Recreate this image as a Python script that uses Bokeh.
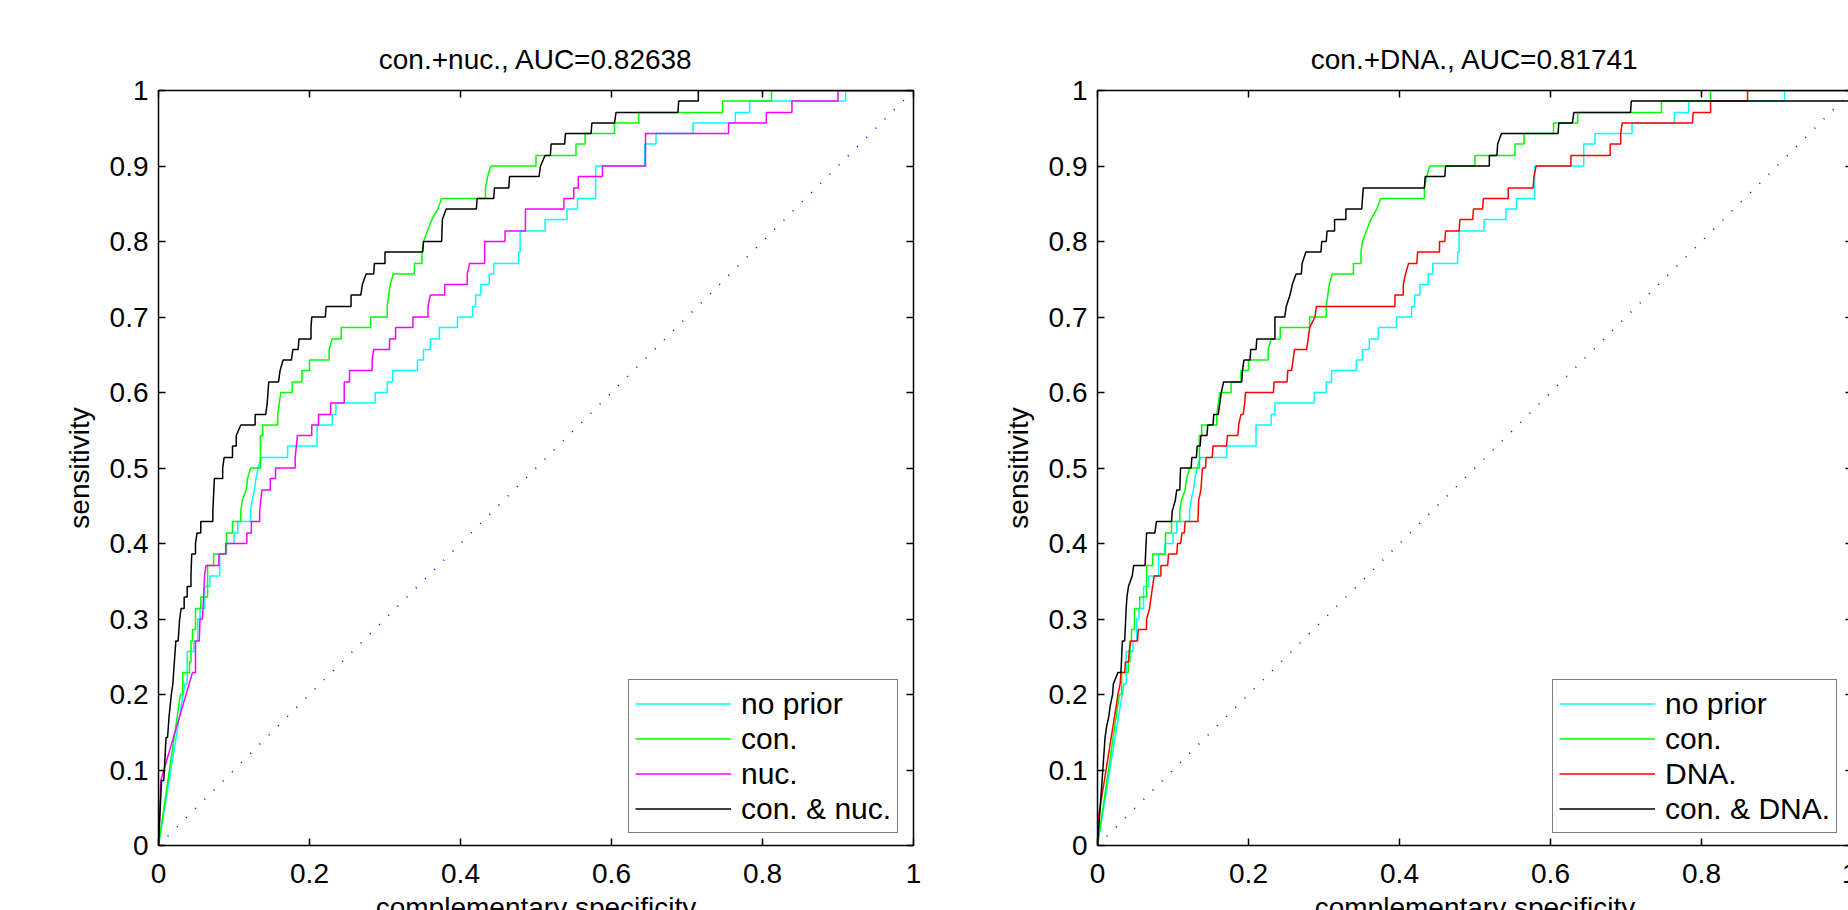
from bokeh.plotting import figure
from bokeh.models import Range1d, LinearAxis, FixedTicker, CustomJSTickFormatter
from bokeh.layouts import row
from bokeh.embed import file_html
from bokeh.resources import INLINE

# ---------------- data ----------------
titles = ["con.+nuc., AUC=0.82638", "con.+DNA., AUC=0.81741"]
x_label = "complementary specificity"
y_label = "sensitivity"
x_ticks = [0, 0.2, 0.4, 0.6, 0.8, 1.0]
y_ticks = [0, 0.1, 0.2, 0.3, 0.4, 0.5, 0.6, 0.7, 0.8, 0.9, 1.0]
legend_left = ["no prior", "con.", "nuc.", "con. & nuc."]
legend_right = ["no prior", "con.", "DNA.", "con. & DNA."]
diag_x = [0, 1]
diag_y = [0, 1]

# ROC vertices (complementary specificity, sensitivity)
roc_no_prior = [
    (0, 0), (0.035, 0.214), (0.038, 0.214), (0.038, 0.257), (0.047, 0.257), (0.047, 0.271),
    (0.052, 0.271), (0.052, 0.300), (0.055, 0.300), (0.055, 0.314), (0.061, 0.314), (0.061, 0.343),
    (0.068, 0.343), (0.068, 0.357), (0.081, 0.357), (0.081, 0.386), (0.089, 0.386), (0.089, 0.400),
    (0.100, 0.400), (0.100, 0.414), (0.105, 0.414), (0.105, 0.429), (0.122, 0.429), (0.122, 0.443),
    (0.124, 0.457), (0.127, 0.471), (0.129, 0.486), (0.132, 0.500), (0.136, 0.514), (0.171, 0.514),
    (0.171, 0.529), (0.210, 0.529), (0.210, 0.557), (0.230, 0.557), (0.230, 0.571), (0.235, 0.571),
    (0.235, 0.586), (0.287, 0.586), (0.287, 0.600), (0.303, 0.600), (0.303, 0.614), (0.310, 0.614),
    (0.310, 0.629), (0.343, 0.629), (0.343, 0.643), (0.351, 0.643), (0.351, 0.657), (0.360, 0.657),
    (0.360, 0.671), (0.372, 0.671), (0.372, 0.686), (0.396, 0.686), (0.396, 0.700), (0.416, 0.700),
    (0.416, 0.714), (0.420, 0.714), (0.420, 0.729), (0.427, 0.729), (0.427, 0.743), (0.438, 0.743),
    (0.438, 0.757), (0.444, 0.757), (0.444, 0.771), (0.477, 0.771), (0.477, 0.786), (0.479, 0.786),
    (0.479, 0.814), (0.512, 0.814), (0.512, 0.829), (0.541, 0.829), (0.541, 0.843), (0.555, 0.843),
    (0.555, 0.857), (0.579, 0.857), (0.579, 0.900), (0.644, 0.900), (0.644, 0.929), (0.659, 0.929),
    (0.659, 0.943), (0.708, 0.943), (0.708, 0.957), (0.764, 0.957), (0.764, 0.971), (0.783, 0.971),
    (0.783, 0.986), (0.910, 0.986), (0.910, 1.000), (1.0, 1.0),
]

roc_con = [
    (0, 0), (0.029, 0.200), (0.032, 0.200), (0.032, 0.229), (0.041, 0.229), (0.041, 0.243),
    (0.043, 0.243), (0.043, 0.271), (0.045, 0.271), (0.045, 0.286), (0.049, 0.286), (0.049, 0.314),
    (0.056, 0.314), (0.056, 0.329), (0.065, 0.329), (0.065, 0.371), (0.073, 0.371), (0.073, 0.386),
    (0.090, 0.386), (0.090, 0.414), (0.098, 0.414), (0.098, 0.429), (0.109, 0.429), (0.109, 0.443),
    (0.111, 0.457), (0.116, 0.471), (0.118, 0.486), (0.122, 0.500), (0.135, 0.500), (0.135, 0.543),
    (0.138, 0.543), (0.138, 0.557), (0.158, 0.557), (0.158, 0.571), (0.160, 0.586), (0.162, 0.600),
    (0.177, 0.600), (0.177, 0.614), (0.190, 0.614), (0.190, 0.629), (0.200, 0.629), (0.200, 0.643),
    (0.226, 0.643), (0.226, 0.657), (0.230, 0.671), (0.242, 0.671), (0.242, 0.686), (0.281, 0.686),
    (0.281, 0.700), (0.303, 0.700), (0.303, 0.714), (0.305, 0.729), (0.307, 0.743), (0.311, 0.757),
    (0.339, 0.757), (0.339, 0.771), (0.349, 0.771), (0.349, 0.786), (0.351, 0.800), (0.356, 0.814),
    (0.362, 0.829), (0.370, 0.843), (0.375, 0.857), (0.433, 0.857), (0.433, 0.871), (0.436, 0.886),
    (0.440, 0.900), (0.500, 0.900), (0.500, 0.914), (0.553, 0.914), (0.553, 0.929), (0.565, 0.929),
    (0.565, 0.943), (0.604, 0.943), (0.604, 0.957), (0.636, 0.957), (0.636, 0.971), (0.747, 0.971),
    (0.747, 0.986), (0.812, 0.986), (0.812, 1.000), (1.0, 1.0),
]

roc_nuc = [
    (0, 0), (0.003, 0.086), (0.045, 0.229), (0.049, 0.229), (0.049, 0.271), (0.054, 0.271),
    (0.055, 0.300), (0.058, 0.300), (0.059, 0.314), (0.061, 0.357), (0.063, 0.371), (0.080, 0.371),
    (0.080, 0.386), (0.089, 0.386), (0.089, 0.400), (0.117, 0.400), (0.117, 0.414), (0.123, 0.414),
    (0.123, 0.429), (0.134, 0.429), (0.134, 0.443), (0.137, 0.471), (0.148, 0.471), (0.148, 0.486),
    (0.155, 0.486), (0.155, 0.500), (0.181, 0.500), (0.181, 0.514), (0.184, 0.543), (0.203, 0.543),
    (0.203, 0.557), (0.212, 0.557), (0.212, 0.571), (0.228, 0.571), (0.228, 0.586), (0.246, 0.586),
    (0.246, 0.614), (0.253, 0.614), (0.253, 0.629), (0.283, 0.629), (0.283, 0.643), (0.285, 0.657),
    (0.306, 0.657), (0.306, 0.671), (0.314, 0.671), (0.314, 0.686), (0.337, 0.686), (0.337, 0.700),
    (0.357, 0.700), (0.357, 0.714), (0.360, 0.729), (0.379, 0.729), (0.379, 0.743), (0.409, 0.743),
    (0.409, 0.757), (0.412, 0.771), (0.432, 0.771), (0.432, 0.800), (0.459, 0.800), (0.459, 0.814),
    (0.486, 0.814), (0.486, 0.843), (0.537, 0.843), (0.537, 0.857), (0.550, 0.857), (0.550, 0.871),
    (0.556, 0.871), (0.556, 0.886), (0.588, 0.886), (0.588, 0.900), (0.645, 0.900), (0.645, 0.943),
    (0.755, 0.943), (0.755, 0.957), (0.805, 0.957), (0.805, 0.971), (0.839, 0.971), (0.839, 0.986),
    (0.900, 0.986), (0.900, 1.000), (1.0, 1.0),
]

roc_con_nuc = [
    (0, 0), (0.004, 0.086), (0.007, 0.086), (0.010, 0.143), (0.012, 0.143), (0.013, 0.157),
    (0.014, 0.171), (0.017, 0.200), (0.019, 0.214), (0.021, 0.243), (0.023, 0.271), (0.026, 0.271),
    (0.028, 0.300), (0.030, 0.314), (0.034, 0.314), (0.034, 0.329), (0.038, 0.329), (0.038, 0.343),
    (0.043, 0.343), (0.043, 0.357), (0.044, 0.386), (0.049, 0.386), (0.049, 0.400), (0.051, 0.414),
    (0.056, 0.414), (0.056, 0.429), (0.072, 0.429), (0.072, 0.443), (0.074, 0.486), (0.085, 0.486),
    (0.085, 0.500), (0.087, 0.514), (0.098, 0.514), (0.098, 0.529), (0.103, 0.529), (0.103, 0.543),
    (0.109, 0.557), (0.128, 0.557), (0.128, 0.571), (0.142, 0.571), (0.144, 0.586), (0.146, 0.614),
    (0.159, 0.614), (0.161, 0.629), (0.165, 0.643), (0.176, 0.643), (0.178, 0.657), (0.185, 0.657),
    (0.186, 0.671), (0.202, 0.671), (0.202, 0.686), (0.203, 0.700), (0.221, 0.700), (0.222, 0.714),
    (0.255, 0.714), (0.255, 0.729), (0.268, 0.729), (0.270, 0.743), (0.275, 0.757), (0.285, 0.757),
    (0.286, 0.771), (0.300, 0.771), (0.300, 0.786), (0.350, 0.786), (0.351, 0.800), (0.375, 0.800),
    (0.376, 0.829), (0.381, 0.843), (0.421, 0.843), (0.422, 0.857), (0.444, 0.857), (0.445, 0.871),
    (0.464, 0.871), (0.465, 0.886), (0.504, 0.886), (0.506, 0.900), (0.512, 0.914), (0.519, 0.914),
    (0.520, 0.929), (0.538, 0.929), (0.539, 0.943), (0.573, 0.943), (0.574, 0.957), (0.604, 0.957),
    (0.606, 0.971), (0.688, 0.971), (0.689, 0.986), (0.715, 0.986), (0.715, 1.000), (1.0, 1.0),
]

roc_dna = [
    (0, 0.029), (0.025, 0.186), (0.027, 0.200), (0.030, 0.214), (0.031, 0.229), (0.036, 0.229),
    (0.037, 0.243), (0.041, 0.243), (0.042, 0.257), (0.044, 0.271), (0.053, 0.271), (0.054, 0.286),
    (0.065, 0.286), (0.065, 0.300), (0.069, 0.314), (0.071, 0.329), (0.075, 0.357), (0.084, 0.357),
    (0.084, 0.371), (0.093, 0.371), (0.094, 0.386), (0.105, 0.386), (0.106, 0.400), (0.110, 0.400),
    (0.112, 0.414), (0.115, 0.414), (0.116, 0.429), (0.133, 0.429), (0.134, 0.457), (0.137, 0.471),
    (0.139, 0.500), (0.143, 0.500), (0.144, 0.514), (0.152, 0.514), (0.153, 0.529), (0.171, 0.529),
    (0.172, 0.543), (0.186, 0.543), (0.187, 0.557), (0.190, 0.571), (0.193, 0.571), (0.195, 0.586),
    (0.196, 0.600), (0.233, 0.600), (0.234, 0.614), (0.251, 0.614), (0.252, 0.629), (0.257, 0.629),
    (0.259, 0.643), (0.261, 0.657), (0.277, 0.657), (0.279, 0.671), (0.281, 0.686), (0.288, 0.700),
    (0.290, 0.714), (0.394, 0.714), (0.394, 0.729), (0.405, 0.729), (0.405, 0.743), (0.408, 0.757),
    (0.412, 0.771), (0.423, 0.771), (0.424, 0.786), (0.453, 0.786), (0.453, 0.800), (0.460, 0.800),
    (0.461, 0.814), (0.479, 0.814), (0.480, 0.829), (0.497, 0.829), (0.498, 0.843), (0.510, 0.843),
    (0.511, 0.857), (0.544, 0.857), (0.544, 0.871), (0.577, 0.871), (0.578, 0.886), (0.581, 0.900),
    (0.627, 0.900), (0.627, 0.914), (0.679, 0.914), (0.679, 0.929), (0.693, 0.929), (0.693, 0.943),
    (0.695, 0.957), (0.788, 0.957), (0.789, 0.971), (0.812, 0.971), (0.812, 0.986), (0.861, 0.986),
    (0.861, 1.000), (1.0, 1.0),
]

roc_con_dna = [
    (0, 0), (0.008, 0.114), (0.010, 0.143), (0.012, 0.157), (0.015, 0.171), (0.017, 0.186),
    (0.020, 0.200), (0.021, 0.214), (0.027, 0.229), (0.031, 0.229), (0.033, 0.271), (0.036, 0.271),
    (0.038, 0.314), (0.039, 0.329), (0.041, 0.343), (0.046, 0.357), (0.048, 0.371), (0.063, 0.371),
    (0.065, 0.414), (0.076, 0.414), (0.078, 0.429), (0.098, 0.429), (0.099, 0.443), (0.103, 0.457),
    (0.105, 0.471), (0.109, 0.471), (0.110, 0.500), (0.124, 0.500), (0.125, 0.514), (0.131, 0.514),
    (0.132, 0.529), (0.136, 0.529), (0.137, 0.543), (0.145, 0.543), (0.146, 0.557), (0.153, 0.557),
    (0.154, 0.571), (0.160, 0.571), (0.162, 0.586), (0.164, 0.600), (0.167, 0.614), (0.191, 0.614),
    (0.192, 0.629), (0.194, 0.643), (0.202, 0.643), (0.203, 0.657), (0.210, 0.657), (0.211, 0.671),
    (0.235, 0.671), (0.235, 0.700), (0.248, 0.700), (0.250, 0.714), (0.255, 0.729), (0.258, 0.743),
    (0.263, 0.757), (0.270, 0.757), (0.271, 0.771), (0.276, 0.786), (0.296, 0.786), (0.297, 0.800),
    (0.303, 0.800), (0.304, 0.814), (0.314, 0.814), (0.314, 0.829), (0.329, 0.829), (0.329, 0.843),
    (0.350, 0.843), (0.351, 0.857), (0.352, 0.871), (0.433, 0.871), (0.434, 0.886), (0.460, 0.886),
    (0.461, 0.900), (0.519, 0.900), (0.519, 0.914), (0.529, 0.914), (0.530, 0.929), (0.535, 0.943),
    (0.610, 0.943), (0.611, 0.957), (0.629, 0.957), (0.631, 0.971), (0.706, 0.971), (0.707, 0.986),
    (1.0, 0.986), (1.0, 1.0),
]

colors_left = ["#00FFFF", "#00FF00", "#FF00FF", "#000000"]
colors_right = ["#00FFFF", "#00FF00", "#FF0000", "#000000"]

# ---------------- layout constants ----------------
FONT = "Liberation Sans"
FS = "28px"
LEG_FS = "30px"
FRAME = 755           # px per unit on both axes


def style_axis(ax, ticks, show_labels=True):
    ax.ticker = FixedTicker(ticks=ticks)
    ax.major_tick_in = 7
    ax.major_tick_out = 0
    ax.minor_tick_line_color = None
    ax.axis_line_color = "black"
    ax.axis_line_width = 1.5
    ax.major_tick_line_color = "black"
    ax.major_tick_line_width = 1.5
    if show_labels:
        ax.formatter = CustomJSTickFormatter(code="return String(Math.round(tick*10)/10);")
        ax.major_label_text_font = FONT
        ax.major_label_text_font_size = FS
        ax.major_label_text_color = "black"
        ax.axis_label_text_font = FONT
        ax.axis_label_text_font_size = FS
        ax.axis_label_text_font_style = "normal"
        ax.axis_label_text_color = "black"
    else:
        ax.formatter = CustomJSTickFormatter(code="return '';")
        ax.major_label_text_font_size = "1px"
        ax.major_label_standoff = 0
        ax.major_label_text_color = None


def make_panel(title, curves, labels, colors, border_left, border_right, legend_loc):
    total_w = border_left + FRAME + border_right
    p = figure(frame_width=FRAME, frame_height=FRAME,
               x_range=Range1d(0, 1), y_range=Range1d(0, 1),
               output_backend="svg", toolbar_location=None,
               min_border_left=border_left, min_border_right=border_right,
               min_border_top=90, min_border_bottom=0,
               background_fill_color="white", border_fill_color="white",
               outline_line_color=None, title=title,
               styles={"flex-shrink": "0", "min-width": f"{total_w}px"})
    p.title.align = "center"
    p.title.text_font = FONT
    p.title.text_font_size = FS
    p.title.text_font_style = "normal"
    p.title.text_color = "black"
    p.title.standoff = 31
    p.xgrid.visible = False
    p.ygrid.visible = False

    style_axis(p.xaxis[0], x_ticks)
    p.xaxis[0].major_label_standoff = 18
    p.xaxis[0].axis_label = x_label
    p.xaxis[0].axis_label_standoff = 6
    style_axis(p.yaxis[0], y_ticks)
    p.yaxis[0].major_label_standoff = 10
    p.yaxis[0].axis_label = y_label
    p.yaxis[0].axis_label_standoff = 12

    top = LinearAxis()
    style_axis(top, x_ticks, show_labels=False)
    p.add_layout(top, "above")
    rgt = LinearAxis()
    style_axis(rgt, y_ticks, show_labels=False)
    p.add_layout(rgt, "right")

    p.line(diag_x, diag_y, line_color="#0000FF", line_width=1.6, line_dash="1 12")
    for pts, lab, col in zip(curves, labels, colors):
        xs = [a for a, b in pts]
        ys = [b for a, b in pts]
        p.line(xs, ys, line_color=col, line_width=1.5, legend_label=lab)

    leg = p.legend[0]
    leg.location = legend_loc
    leg.label_text_font = FONT
    leg.label_text_font_size = LEG_FS
    leg.label_text_color = "black"
    leg.glyph_width = 96
    leg.glyph_height = 35
    leg.label_height = 35
    leg.label_standoff = 10
    leg.spacing = 0
    leg.padding = 6
    leg.margin = 0
    leg.border_line_color = "black"
    leg.border_line_width = 1.5
    leg.background_fill_color = "white"
    leg.background_fill_alpha = 1.0
    return p


p1 = make_panel(titles[0], [roc_no_prior, roc_con, roc_nuc, roc_con_nuc], legend_left, colors_left,
                158, 47, (470, 12))
p2 = make_panel(titles[1], [roc_no_prior, roc_con, roc_dna, roc_con_dna], legend_right, colors_right,
                137, 5, (455, 12))

# the reference picture is cut by the 1848x910 window: clip the row to it
layout = row(p1, p2, styles={"overflow": "hidden", "max-width": "1848px", "max-height": "910px"})
open("out.html", "w").write(file_html(layout, INLINE, title="ROC"))
